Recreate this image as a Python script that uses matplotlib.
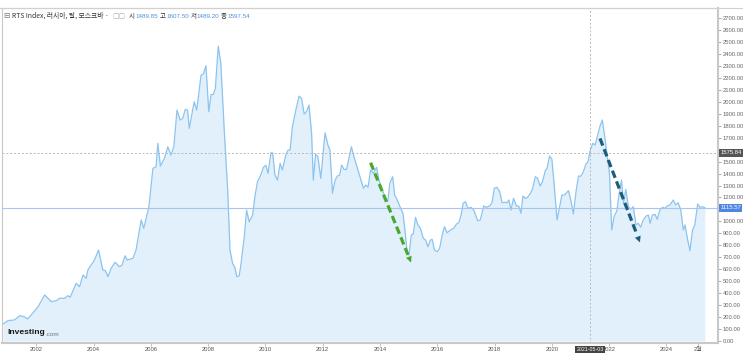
import numpy as np
import matplotlib
matplotlib.use("Agg")
import matplotlib.pyplot as plt
from matplotlib.lines import Line2D

plt.rcParams['font.family'] = ['Liberation Sans', 'Noto Sans CJK KR', 'DejaVu Sans']

# RTS index, monthly-ish closes (decimal year, index points)
years = [
    2000.84, 2001.01, 2001.24, 2001.42, 2001.59, 2001.69, 2001.88, 2002.06, 2002.29, 2002.52,
    2002.70, 2002.81, 2002.99, 2003.10, 2003.18, 2003.39, 2003.51, 2003.63, 2003.74, 2003.80,
    2004.03, 2004.17, 2004.32, 2004.41, 2004.50, 2004.61, 2004.75, 2004.90, 2004.99, 2005.10,
    2005.17, 2005.37, 2005.48, 2005.66, 2005.75, 2005.93, 2006.07, 2006.18, 2006.24, 2006.33,
    2006.47, 2006.59, 2006.70, 2006.80, 2006.91, 2007.02, 2007.11, 2007.20, 2007.28, 2007.34,
    2007.51, 2007.60, 2007.75, 2007.83, 2007.92, 2008.02, 2008.10, 2008.18, 2008.25, 2008.35,
    2008.44, 2008.56, 2008.68, 2008.76, 2008.85, 2008.93, 2009.00, 2009.08, 2009.14, 2009.26,
    2009.34, 2009.43, 2009.55, 2009.63, 2009.72, 2009.81, 2009.93, 2010.01, 2010.09, 2010.19,
    2010.25, 2010.33, 2010.42, 2010.51, 2010.59, 2010.71, 2010.79, 2010.86, 2010.94, 2011.06,
    2011.17, 2011.26, 2011.35, 2011.43, 2011.52, 2011.61, 2011.67, 2011.75, 2011.83, 2011.93,
    2012.08, 2012.18, 2012.25, 2012.34, 2012.43, 2012.51, 2012.59, 2012.66, 2012.74, 2012.83,
    2013.00, 2013.09, 2013.23, 2013.32, 2013.42, 2013.50, 2013.58, 2013.67, 2013.77, 2013.88,
    2013.96, 2014.08, 2014.19, 2014.27, 2014.34, 2014.44, 2014.51, 2014.60, 2014.72, 2014.80,
    2014.87, 2014.95, 2015.01, 2015.09, 2015.16, 2015.24, 2015.32, 2015.41, 2015.51, 2015.59,
    2015.67, 2015.76, 2015.82, 2015.90, 2016.00, 2016.08, 2016.17, 2016.25, 2016.34, 2016.46,
    2016.57, 2016.67, 2016.75, 2016.83, 2016.90, 2016.98, 2017.07, 2017.18, 2017.27, 2017.41,
    2017.50, 2017.62, 2017.71, 2017.83, 2017.91, 2017.99, 2018.08, 2018.18, 2018.26, 2018.35,
    2018.43, 2018.50, 2018.57, 2018.66, 2018.76, 2018.84, 2018.92, 2018.99, 2019.07, 2019.15,
    2019.25, 2019.33, 2019.42, 2019.50, 2019.59, 2019.67, 2019.77, 2019.83, 2019.92, 2020.00,
    2020.08, 2020.18, 2020.27, 2020.35, 2020.44, 2020.58, 2020.66, 2020.75, 2020.85, 2020.93,
    2021.01, 2021.10, 2021.19, 2021.26, 2021.34, 2021.43, 2021.51, 2021.60, 2021.68, 2021.76,
    2021.83, 2021.92, 2022.01, 2022.09, 2022.17, 2022.27, 2022.35, 2022.43, 2022.50, 2022.58,
    2022.67, 2022.76, 2022.84, 2022.94, 2023.02, 2023.10, 2023.19, 2023.29, 2023.37, 2023.43,
    2023.51, 2023.60, 2023.68, 2023.77, 2023.87, 2023.95, 2024.03, 2024.12, 2024.24, 2024.32,
    2024.41, 2024.50, 2024.59, 2024.65, 2024.73, 2024.82, 2024.91, 2024.99, 2025.09, 2025.17,
    2025.25, 2025.34,
]
values = [
    142, 170, 176, 212, 201, 184, 234, 287, 385, 329,
    337, 357, 357, 379, 365, 482, 454, 552, 524, 594,
    677, 761, 594, 588, 538, 608, 658, 621, 635, 713,
    677, 691, 761, 1012, 942, 1123, 1444, 1457, 1653, 1463,
    1527, 1624, 1555, 1624, 1931, 1848, 1862, 1937, 1931, 1778,
    2001, 1931, 2224, 2232, 2302, 1917, 2062, 2062, 2113, 2466,
    2322, 1764, 1262, 761, 650, 616, 538, 543, 635, 872,
    1095, 997, 1053, 1206, 1332, 1374, 1452, 1471, 1402, 1574,
    1574, 1388, 1346, 1486, 1430, 1555, 1597, 1597, 1792, 1931,
    2048, 2029, 1898, 1917, 1973, 1736, 1346, 1563, 1541, 1360,
    1741, 1639, 1597, 1235, 1346, 1379, 1388, 1471, 1435, 1435,
    1624, 1541, 1430, 1360, 1277, 1304, 1285, 1430, 1402, 1452,
    1346, 1262, 1193, 1165, 1318, 1374, 1221, 1179, 1109, 1068,
    928, 733, 719, 886, 895, 1034, 970, 942, 859, 844,
    788, 844, 850, 761, 747, 775, 886, 956, 905, 928,
    942, 978, 989, 1053, 1151, 1165, 1109, 1118, 1095, 1006,
    1012, 1129, 1118, 1129, 1156, 1277, 1285, 1248, 1156, 1160,
    1156, 1179, 1095, 1193, 1129, 1129, 1068, 1212, 1193, 1201,
    1235, 1277, 1374, 1360, 1296, 1332, 1424, 1444, 1547, 1519,
    1304, 1012, 1123, 1221, 1221, 1257, 1179, 1062, 1262, 1379,
    1379, 1415, 1480, 1499, 1597, 1653, 1639, 1722, 1797, 1848,
    1736, 1569, 1402, 928, 1039, 1089, 1235, 1346, 1151, 1268,
    1123, 1101, 1123, 970, 984, 951, 1012, 1045, 1053, 984,
    1053, 1059, 1017, 1095, 1118, 1109, 1129, 1137, 1179, 1137,
    1156, 1095, 928, 970, 859, 755, 928, 970, 1145, 1118,
    1123, 1115.57,
]

year_ticks = [2002, 2004, 2006, 2008, 2010, 2012, 2014, 2016, 2018, 2020, 2022, 2024, 2025.09]
year_labels = ['2002', '2004', '2006', '2008', '2010', '2012', '2014', '2016', '2018', '2020',
               '2022', '2024', '2월']
last_price = 1115.57
cross_price = 1575.84
cross_date = 2021.334
cross_date_label = '2021-05-03'

# hand drawn trend arrows (start, end) in (year, price)
green_arrow = ((2013.67, 1491), (2015.12, 635))
teal_arrow = ((2021.68, 1694), (2023.11, 803))

header_ohlc = [('시', '1489.85'), ('고', '1607.50'), ('저', '1489.20'), ('종', '1597.54')]

line_col = '#8cc4ee'
fill_col = '#e1f0fa'

fig = plt.figure(figsize=(7.43, 3.57), dpi=100)
ax = fig.add_axes([2 / 743, 14 / 357, 716 / 743, 335 / 357])

ax.fill_between(years, values, 0, color=fill_col, lw=0)
ax.plot(years, values, color=line_col, lw=0.9)
ax.axhline(last_price, color='#a9c4ef', lw=0.8)
ax.axhline(cross_price, color='#b8b8b8', lw=0.7, ls=(0, (2, 2)))
ax.axvline(cross_date, color='#b8b8b8', lw=0.7, ls=(0, (2, 2)))

for (x0, y0), (x1, y1), col in [(green_arrow[0], green_arrow[1], '#4aa82e'),
                                 (teal_arrow[0], teal_arrow[1], '#1d5d7c')]:
    # stop the dashes a bit short so the head sits on the end point
    xs = x0 + (x1 - x0) * 0.9
    ys = y0 + (y1 - y0) * 0.9
    ax.add_line(Line2D([x0, xs], [y0, ys], color=col, lw=2.3, dashes=(2.4, 1.2)))
    ax.annotate('', xy=(x1, y1), xytext=(xs, ys),
                arrowprops=dict(arrowstyle='-|>', color=col, lw=0, mutation_scale=11))

ax.set_xlim(2000.80, 2025.80)
ax.set_ylim(-17, 2785)

ax.yaxis.tick_right()
yt = np.arange(0, 2800, 100)
ax.set_yticks(yt)
# the 1100 and 1600 labels sit under the price flags
ax.set_yticklabels(['' if v in (1100, 1600) else '{:.2f}'.format(v) for v in yt])
ax.set_xticks(year_ticks)
ax.set_xticklabels(year_labels)
ax.tick_params(axis='y', labelsize=4.2, colors='#888888', length=2, width=0.5, pad=1.5,
               labelcolor='#666666')
ax.tick_params(axis='x', labelsize=4.2, colors='#aaaaaa', length=2, width=0.5, pad=1,
               labelcolor='#555555')

for s in ['right', 'bottom', 'left', 'top']:
    ax.spines[s].set_color('#c8c8c8')
    ax.spines[s].set_linewidth(0.8)
ax.spines['right'].set_linewidth(1.5)
ax.spines['bottom'].set_linewidth(1.5)

# value flags on the price scale
ax.text(1.003, last_price, '{:.2f}'.format(last_price), transform=ax.get_yaxis_transform(),
        fontsize=4.2, color='white', va='center', ha='left',
        bbox=dict(boxstyle='square,pad=0.25', fc='#4f86e3', ec='none'))
ax.text(1.003, cross_price, '{:.2f}'.format(cross_price), transform=ax.get_yaxis_transform(),
        fontsize=4.2, color='white', va='center', ha='left',
        bbox=dict(boxstyle='square,pad=0.25', fc='#555555', ec='none'))
ax.text(cross_date, -0.012, cross_date_label, transform=ax.get_xaxis_transform(),
        fontsize=3.8, color='white', va='top', ha='center',
        bbox=dict(boxstyle='square,pad=0.25', fc='#444444', ec='none'))

# header strip
fig.add_artist(Line2D([0, 1], [1 - 7.5 / 357] * 2, color='#d0d0d0', lw=0.8))
hy = 1 - 16 / 357
fig.text(3 / 743, hy, '⊟', fontsize=5.5, color='#777777', va='center',
         family=['DejaVu Sans'])
fig.text(12 / 743, hy, 'RTS Index, 러시아, 달, 모스크바 ·', fontsize=4.9, color='#333333',
         va='center', family=['Noto Sans CJK KR', 'DejaVu Sans'])
fig.text(112 / 743, hy, '▢▢', fontsize=5.0, color='#aaaaaa', va='center',
         family=['DejaVu Sans'])
for i, (k, v) in enumerate(header_ohlc):
    x0 = 129 + i * 30.7
    fig.text(x0 / 743, hy, k, fontsize=4.7, color='#333333', va='center',
             family=['Noto Sans CJK KR', 'DejaVu Sans'])
    fig.text((x0 + 6.5) / 743, hy, v, fontsize=4.5, color='#4a90d9', va='center')

# logo
fig.text(7 / 743, 1 - 333 / 357, 'Investing', fontsize=6.1, fontweight='bold',
         color='#1a1a1a', va='center')
fig.text(45.5 / 743, 1 - 334 / 357, '.com', fontsize=4.6, color='#777777', va='center')

fig.savefig('out.png', dpi=100)
plt.close('all')
